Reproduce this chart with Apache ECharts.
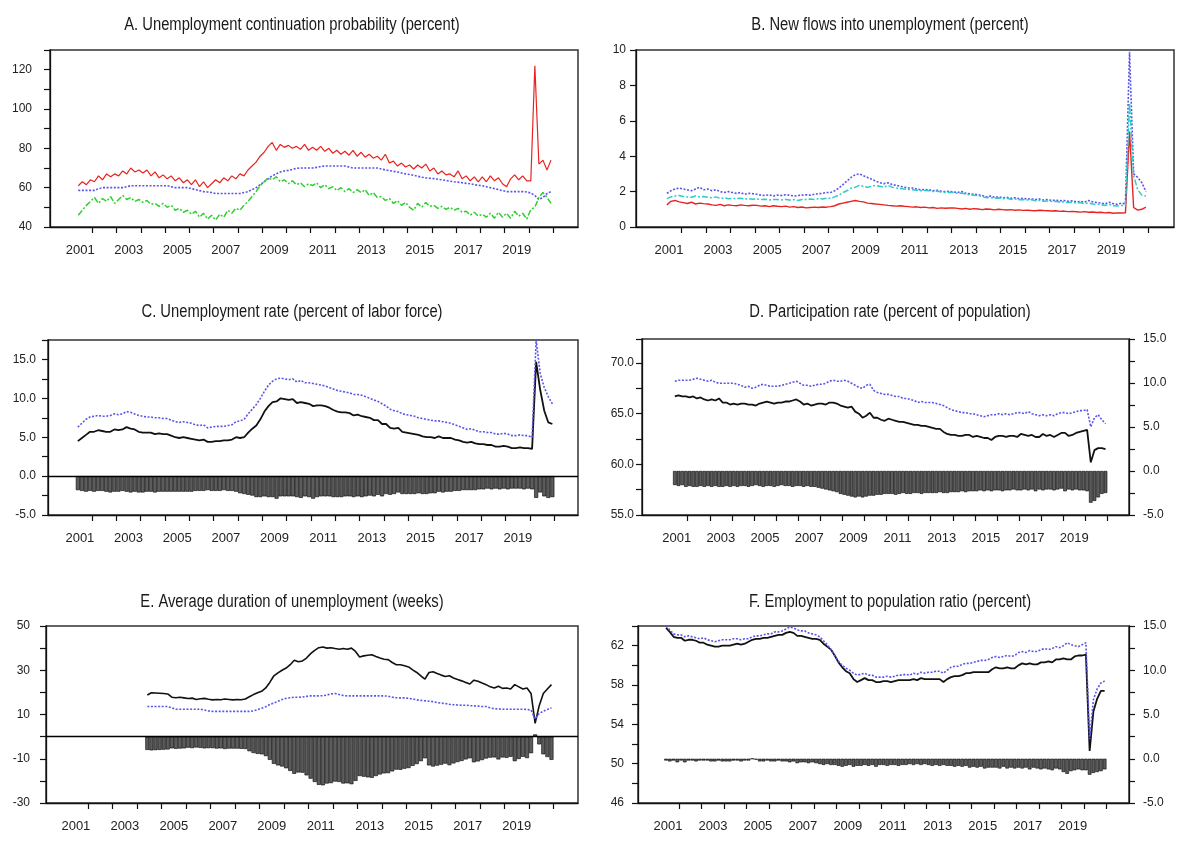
<!DOCTYPE html>
<html><head><meta charset="utf-8">
<script src="https://cdn.jsdelivr.net/npm/echarts@6/dist/echarts.min.js"></script>
<style>html,body{margin:0;padding:0;background:#fff}#c{width:1177px;height:841px}</style>
</head><body><div id="c"></div>
<script>
// ---- observation calendar (every second month) ----
const stepMonths = 2;
const firstObs = { year: 2001, month: 6 };   // June 2001
const firstObsE = { year: 2004, month: 6 };  // June 2004 (panel E)
const yearTicks = [2002,2003,2004,2005,2006,2007,2008,2009,2010,2011,2012,2013,2014,2015,2016,2017,2018,2019,2020,2021];
const yearLabels = [2001,2003,2005,2007,2009,2011,2013,2015,2017,2019];
const panelTitles = [
  'A. Unemployment continuation probability (percent)',
  'B. New flows into unemployment (percent)',
  'C. Unemployment rate (percent of labor force)',
  'D. Participation rate (percent of population)',
  'E. Average duration of unemployment (weeks)',
  'F. Employment to population ratio (percent)'
];

// ---- A. Unemployment continuation probability (percent) ----
const contProbRed = [61,63,61.5,64,
 63,66,64,67,65.5,67, 66,68.5,67,70,68,69, 67.5,69,66,68,65,66.5, 64.5,66,63.5,65,62.5,64,
 61.5,64,60.5,63,60,62, 64,62.5,65,63.5,66,64.5, 67,66,69,71,73,76, 78,81,83,79,82,80.5,
 81.5,80,81,79.5,82,79, 80.5,79,81,78.5,80,77.5, 79,77,78.5,76.5,79,76, 78,75.5,77,75,76,74,
 77,72.5,73.5,71,72.5,70.5, 71.5,69.5,71.5,70,72,68.5, 70,67,68.5,66.5,67,65.5, 68.5,64.5,66,63.5,65.5,63,
 65.5,63,66,63.5,65,62, 60.5,64.5,66.5,64,66,63.5, 63.5,122,72,74,69,74];
const contProbBlue = [58.6,58.6,58.6,58.6,
 58.6,59.5,60,60,60,60, 60,60,60.5,61,61,61, 61,61,61,61,61,61, 61,60.5,60,60,60,60,
 59.5,59,58.5,58,57.8,57.5, 57,57,57,57,57,57, 57,57.5,58,59,60,61.5, 63,64.5,66,67,68,68.5,
 68.8,69.3,69.8,70,70,70, 70,70.3,70.8,71,71,71, 71,71,71,70.5,70,70, 70,70,70,70,70,69.5,
 69,68.7,68.3,68,67.5,67, 66.7,66.3,65.8,65.3,65,64.8, 64.6,64.3,64,63.7,63.3,63, 62.8,62.5,62.2,62,61.5,61.2,
 61,60.5,60,59.5,59,58.5, 58,58,58,58,58,57.8, 57.3,56,54,55,57,58];
const contProbGreen = [46,48.5,51,53,
 55,52,54.5,53,55.5,52, 54,56,54,55,53,54, 52.5,53.5,51.5,52,50.5,52, 50,51,48.5,49.5,47.5,48.5,
 46.5,48,45,47,44,46, 43.5,46.5,45,48.5,47,49.5, 48.5,51,53,55.5,58,61, 63,65,64,65.5,63,64,
 62,63.5,61.5,62.5,60.5,62, 61,62.5,60,61.5,59.5,60.5, 58.5,60,58,59.5,57.5,59, 57.5,59,56,57.5,55,55.5,
 53.5,54.5,52,53.5,51,52.5, 50,48.5,52,50,52.5,50.5, 51,49.5,50.5,49,50,48.5, 49.5,47.5,48,46,47.5,45.5,
 46.5,45,47,44.5,47.5,45, 47,44.5,48,45.5,47,44, 49,50,55,57.5,55,52];

// ---- B. New flows into unemployment (percent) ----
const flowsRed = [1.25,1.45,1.5,1.42,
 1.38,1.33,1.4,1.3,1.35,1.32, 1.3,1.25,1.22,1.28,1.2,1.25, 1.22,1.2,1.25,1.22,1.2,1.23, 1.22,1.18,1.2,1.15,1.2,1.17,
 1.15,1.18,1.12,1.15,1.1,1.13, 1.08,1.1,1.12,1.1,1.13,1.12, 1.15,1.2,1.3,1.35,1.4,1.45, 1.5,1.45,1.42,1.35,1.33,1.3,
 1.28,1.25,1.22,1.2,1.18,1.2, 1.17,1.15,1.12,1.14,1.1,1.12, 1.08,1.1,1.05,1.08,1.06,1.07, 1.08,1.05,1.02,1.05,1.0,1.04,
 1.02,0.98,1.02,1.0,0.97,1.0, 0.98,0.96,0.98,0.95,0.97,0.94, 0.95,0.93,0.92,0.95,0.93,0.92, 0.9,0.92,0.88,0.9,0.87,0.88,
 0.86,0.84,0.87,0.83,0.85,0.82, 0.83,0.8,0.82,0.78,0.8,0.79, 0.8,5.4,1.1,0.95,1.0,1.12];
const flowsBlue = [1.9,2.05,2.15,2.2,
 2.15,2.1,2.05,2.15,2.25,2.1, 2.15,2.05,2.1,2.0,1.95,2.0, 1.95,1.9,1.95,1.85,1.9,1.88, 1.85,1.8,1.78,1.82,1.75,1.8,
 1.78,1.82,1.8,1.75,1.78,1.8, 1.82,1.8,1.85,1.88,1.9,1.95, 1.95,2.05,2.2,2.4,2.6,2.8, 2.95,3.0,2.9,2.8,2.7,2.6,
 2.5,2.45,2.5,2.4,2.35,2.3, 2.25,2.2,2.2,2.15,2.1,2.12, 2.1,2.05,2.08,2.02,2.0,2.02, 1.98,1.95,2.0,1.9,1.88,1.85,
 1.82,1.78,1.7,1.75,1.68,1.7, 1.65,1.68,1.62,1.65,1.6,1.62, 1.58,1.6,1.55,1.58,1.52,1.55, 1.5,1.52,1.48,1.5,1.45,1.48,
 1.42,1.45,1.4,1.5,1.42,1.38, 1.35,1.3,1.4,1.32,1.28,1.35, 1.3,9.9,3.0,2.8,2.5,2.0];
const flowsCyan = [1.6,1.7,1.75,1.78,
 1.72,1.7,1.68,1.75,1.7,1.72, 1.68,1.65,1.7,1.62,1.65,1.6, 1.62,1.6,1.63,1.58,1.6,1.57, 1.58,1.55,1.57,1.53,1.56,1.55,
 1.53,1.56,1.52,1.55,1.5,1.55, 1.55,1.58,1.55,1.6,1.58,1.62, 1.62,1.7,1.8,1.95,2.05,2.2, 2.25,2.35,2.3,2.25,2.3,2.35,
 2.3,2.25,2.35,2.25,2.2,2.18, 2.15,2.12,2.1,2.08,2.05,2.06, 2.05,2.0,2.02,1.98,1.95,1.96, 1.95,1.9,1.92,1.85,1.82,1.8,
 1.78,1.72,1.65,1.68,1.62,1.64, 1.6,1.62,1.56,1.58,1.54,1.55, 1.52,1.54,1.48,1.5,1.45,1.47, 1.44,1.45,1.4,1.42,1.38,1.4,
 1.35,1.38,1.32,1.36,1.3,1.28, 1.27,1.22,1.28,1.2,1.18,1.22, 1.2,7.0,2.9,2.1,1.8,1.75];

// ---- C. Unemployment rate (percent of labor force) ----
const urateBlack = [4.5,4.9,5.3,5.7,
 5.7,5.9,5.8,5.7,5.7,6.0, 5.9,6.0,6.3,6.1,6.0,5.7, 5.6,5.6,5.6,5.4,5.5,5.4, 5.4,5.2,5.0,4.9,5.0,4.9,
 4.8,4.7,4.6,4.7,4.4,4.4, 4.5,4.5,4.6,4.6,4.7,5.0, 4.9,5.0,5.6,6.1,6.5,7.3, 8.3,9.0,9.5,9.6,10.0,9.9,
 9.8,9.9,9.4,9.5,9.4,9.3, 9.0,9.1,9.1,9.0,8.8,8.5, 8.3,8.2,8.2,8.1,7.8,7.9, 7.7,7.6,7.5,7.2,7.2,6.7,
 6.7,6.2,6.1,6.2,5.7,5.6, 5.5,5.4,5.3,5.1,5.0,5.0, 4.9,5.1,4.9,4.9,4.9,4.7, 4.6,4.4,4.3,4.4,4.2,4.1,
 4.1,4.0,4.0,3.8,3.8,3.9, 3.8,3.6,3.6,3.7,3.6,3.6, 3.5,14.7,11.1,8.4,6.9,6.7];
const urateBlue = [6.3,6.8,7.3,7.6,
 7.7,7.8,7.7,7.7,7.8,8.0, 7.9,8.0,8.3,8.2,8.0,7.8, 7.7,7.6,7.6,7.5,7.5,7.4, 7.4,7.2,7.0,6.9,7.0,6.9,
 6.8,6.6,6.5,6.6,6.2,6.3, 6.4,6.4,6.4,6.5,6.6,7.0, 7.1,7.3,8.0,8.6,9.2,10.0, 10.9,11.7,12.2,12.5,12.6,12.5,
 12.4,12.5,12.1,12.3,12.0,12.0, 11.9,11.8,11.7,11.6,11.4,11.2, 11.0,10.9,10.8,10.7,10.5,10.5, 10.4,10.2,10.0,9.8,9.6,9.3,
 9.0,8.6,8.4,8.3,8.0,7.9, 7.8,7.7,7.5,7.4,7.3,7.2, 7.1,7.1,7.0,6.9,6.8,6.6, 6.4,6.2,6.0,6.1,5.9,5.7,
 5.7,5.6,5.6,5.4,5.4,5.5, 5.4,5.2,5.2,5.3,5.2,5.2, 5.0,17.5,13.2,11.4,10.2,9.3];
const urateBars = [-1.8,-1.9,-2.0,-1.9,
 -2.0,-1.9,-1.9,-2.0,-2.1,-2.0, -2.0,-1.9,-2.0,-2.1,-2.0,-2.1, -2.1,-2.0,-2.0,-2.1,-2.0,-2.0, -2.0,-2.0,-2.0,-2.0,-2.0,-2.0,
 -2.0,-1.9,-1.9,-1.9,-1.8,-1.9, -1.9,-1.9,-1.8,-1.9,-1.9,-2.0, -2.2,-2.3,-2.4,-2.5,-2.7,-2.7, -2.6,-2.7,-2.7,-2.9,-2.6,-2.6,
 -2.6,-2.6,-2.7,-2.8,-2.6,-2.7, -2.9,-2.7,-2.6,-2.6,-2.6,-2.7, -2.7,-2.7,-2.6,-2.6,-2.7,-2.6, -2.7,-2.6,-2.5,-2.6,-2.4,-2.6,
 -2.3,-2.4,-2.3,-2.1,-2.3,-2.3, -2.3,-2.3,-2.2,-2.3,-2.3,-2.2, -2.2,-2.0,-2.1,-2.0,-2.0,-1.9, -1.9,-1.8,-1.8,-1.8,-1.8,-1.7,
 -1.7,-1.6,-1.7,-1.6,-1.7,-1.6, -1.7,-1.6,-1.6,-1.6,-1.7,-1.6, -1.7,-2.8,-2.1,-2.6,-2.8,-2.7];

// ---- D. Participation rate (percent of population) ----
const partBlack = [66.7,66.8,66.7,66.7,
 66.6,66.7,66.5,66.6,66.4,66.3, 66.4,66.3,66.5,66.1,66.1,65.9, 66.0,65.9,66.0,66.0,65.9,65.9, 65.8,66.0,66.1,66.2,66.1,66.0,
 66.1,66.1,66.2,66.2,66.3,66.4, 66.2,65.9,66.0,65.8,65.9,66.0, 66.0,65.9,66.1,66.1,66.0,65.8, 65.7,65.6,65.7,65.2,65.0,64.6,
 64.8,65.1,64.6,64.6,64.4,64.3, 64.5,64.4,64.3,64.2,64.2,64.1, 64.0,63.9,63.9,63.8,63.8,63.7, 63.6,63.5,63.5,63.2,63.0,62.9,
 62.9,62.8,62.8,62.9,62.9,62.7, 62.8,62.7,62.6,62.6,62.4,62.7, 62.8,62.8,62.7,62.8,62.8,62.7, 63.0,62.9,62.8,62.9,62.7,62.7,
 63.0,62.8,62.9,62.7,62.9,63.1, 63.1,62.8,62.9,63.1,63.2,63.3, 63.4,60.2,61.4,61.6,61.6,61.5];
const partBlue = [68.2,68.3,68.3,68.3,
 68.3,68.4,68.5,68.4,68.3,68.2, 68.3,68.1,68.0,68.0,68.0,68.0, 68.0,67.9,67.8,67.6,67.7,67.5, 67.6,67.8,67.9,67.8,67.7,67.7,
 67.7,67.8,67.9,68.0,68.1,68.2, 68.0,67.8,67.8,67.7,67.8,67.9, 67.9,68.0,68.2,68.3,68.2,68.2, 68.3,68.2,68.0,67.8,67.6,67.5,
 67.8,67.9,67.3,67.1,67.0,66.9, 66.9,66.8,66.7,66.7,66.5,66.5, 66.4,66.3,66.1,66.2,66.1,66.1, 66.1,66.0,65.9,65.8,65.6,65.4,
 65.3,65.2,65.1,65.1,65.0,65.0, 64.9,64.8,64.7,64.8,64.9,64.9, 65.0,64.9,65.0,64.9,65.0,65.1, 65.1,65.0,65.2,65.0,64.9,64.8,
 64.9,64.8,64.9,64.8,65.0,65.1, 65.1,65.0,65.1,65.2,65.3,65.3, 65.4,63.7,64.6,64.9,64.4,64.0];
const partBars = [-1.6,-1.7,-1.6,-1.8,
 -1.7,-1.8,-1.8,-1.7,-1.8,-1.7, -1.8,-1.7,-1.8,-1.8,-1.7,-1.8, -1.7,-1.8,-1.7,-1.7,-1.8,-1.7, -1.6,-1.7,-1.8,-1.7,-1.7,-1.8,
 -1.7,-1.6,-1.7,-1.7,-1.8,-1.7, -1.7,-1.8,-1.7,-1.8,-1.8,-1.9, -2.0,-2.1,-2.2,-2.3,-2.4,-2.6, -2.7,-2.8,-2.9,-3.0,-2.9,-3.0,
 -2.9,-2.8,-2.8,-2.7,-2.7,-2.6, -2.6,-2.6,-2.7,-2.6,-2.5,-2.6, -2.6,-2.5,-2.5,-2.6,-2.5,-2.5, -2.5,-2.5,-2.4,-2.5,-2.5,-2.4,
 -2.4,-2.4,-2.3,-2.4,-2.3,-2.3, -2.3,-2.2,-2.3,-2.2,-2.3,-2.2, -2.2,-2.3,-2.2,-2.2,-2.1,-2.2, -2.2,-2.1,-2.2,-2.1,-2.3,-2.1,
 -2.2,-2.1,-2.1,-2.2,-2.1,-2.0, -2.3,-2.1,-2.2,-2.1,-2.2,-2.2, -2.3,-3.6,-3.4,-3.0,-2.6,-2.5];

// ---- E. Average duration of unemployment (weeks), from June 2004 ----
const durBlack = [18.8,19.8,19.7,19.6,
 19.5,19.3,17.8,17.6,17.8,17.5, 17.2,17.4,16.8,17.1,17.3,16.9, 16.6,16.8,16.7,17.0,16.8,16.6, 16.8,16.7,17.0,18.0,19.0,19.8,
 20.5,22.0,24.5,27.5,28.8,30.0, 31.0,32.5,34.5,33.8,34.2,35.5, 37.5,39.0,40.2,40.5,40.0,40.2, 39.8,39.5,39.8,39.5,40.0,38.5,
 36.0,36.5,36.8,37.0,36.2,35.5, 35.0,34.8,33.5,32.5,32.5,32.0, 31.5,30.2,29.0,27.5,26.0,29.0, 29.3,28.5,27.8,27.2,27.5,26.5,
 25.8,25.2,24.5,23.8,25.5,25.0, 24.2,23.5,22.5,22.0,22.8,21.8, 22.0,21.5,23.5,22.5,21.5,22.0, 19.5,6.0,14.0,19.5,21.5,23.5];
const durBlue = [13.6,13.6,13.6,13.6,
 13.6,13.6,13.0,12.4,12.4,12.4, 12.4,12.4,12.4,12.4,12.0,11.6, 11.4,11.4,11.4,11.4,11.4,11.4, 11.4,11.4,11.4,11.4,11.6,12.2,
 12.8,13.5,14.5,15.2,16.0,16.8, 17.3,17.6,17.8,17.8,17.9,18.2, 18.4,18.4,18.4,18.5,18.8,19.3, 19.5,19.0,18.6,18.4,18.4,18.4,
 18.4,18.4,18.4,18.4,18.4,18.4, 18.4,18.3,17.8,17.6,17.5,17.5, 17.3,17.0,16.6,16.4,16.2,16.0, 15.8,15.4,15.1,15.0,14.6,14.4,
 14.3,14.2,14.2,14.0,13.9,13.8, 13.6,13.6,13.0,12.6,12.5,12.4, 12.4,12.4,12.4,12.4,12.4,12.3, 12.0,8.0,10.5,11.5,12.3,13.0];
const durBars = [-6.0,-6.2,-6.1,-6.0,
 -5.9,-5.8,-5.3,-5.5,-5.4,-5.3, -5.0,-5.2,-4.9,-5.1,-5.3,-5.2, -5.2,-5.4,-5.3,-5.6,-5.4,-5.4, -5.4,-5.5,-5.6,-6.6,-7.4,-7.8,
 -8.0,-8.8,-10.5,-12.3,-13.0,-13.5, -14.3,-15.5,-16.8,-16.2,-16.3,-17.5, -19.0,-20.5,-21.8,-22.0,-21.2,-21.0, -20.3,-20.5,-21.2,-21.1,-21.5,-20.0,
 -17.8,-18.1,-18.4,-18.6,-17.8,-17.1, -16.6,-16.5,-15.7,-14.9,-15.0,-14.5, -14.2,-13.2,-12.4,-11.1,-9.8,-13.0, -13.5,-13.1,-12.7,-12.2,-12.9,-12.1,
 -11.5,-11.0,-10.3,-9.8,-11.6,-11.2, -10.6,-9.9,-9.5,-9.4,-10.3,-9.4, -9.6,-9.1,-11.1,-10.1,-9.1,-9.7, -7.5,1.0,-3.5,-8.0,-9.2,-10.5];

// ---- F. Employment to population ratio (percent) ----
const eprBlack = [63.8,63.4,62.9,62.8,
 62.8,62.5,62.6,62.6,62.5,62.3, 62.3,62.1,62.0,61.9,61.9,62.0, 62.0,62.0,62.1,62.2,62.1,62.2, 62.4,62.6,62.7,62.7,62.8,62.8,
 62.9,63.0,63.1,63.1,63.3,63.4, 63.3,63.0,63.0,62.9,62.8,62.7, 62.7,62.6,62.2,61.9,61.6,61.0, 60.3,59.8,59.4,59.2,58.6,58.3,
 58.5,58.7,58.5,58.5,58.3,58.3, 58.4,58.4,58.3,58.4,58.5,58.5, 58.5,58.5,58.6,58.5,58.7,58.6, 58.6,58.6,58.6,58.6,58.3,58.6,
 58.8,58.9,58.9,59.0,59.2,59.2, 59.3,59.3,59.3,59.3,59.3,59.6, 59.8,59.7,59.7,59.8,59.7,59.7, 60.0,60.2,60.1,60.2,60.1,60.1,
 60.3,60.3,60.4,60.3,60.6,60.6, 60.7,60.6,60.6,60.9,61.0,61.0, 61.1,51.3,55.3,56.6,57.4,57.4];
const eprBlue = [64.0,63.6,63.2,63.1,
 63.1,62.9,63.0,62.9,62.8,62.7, 62.8,62.6,62.5,62.4,62.5,62.6, 62.6,62.6,62.7,62.7,62.6,62.7, 62.7,62.9,63.0,63.0,63.1,63.2,
 63.2,63.4,63.4,63.5,63.7,63.9, 63.8,63.6,63.5,63.5,63.3,63.2, 63.1,62.9,62.5,62.1,61.6,61.0, 60.4,60.0,59.7,59.5,59.2,59.0,
 59.1,59.2,59.0,59.0,58.8,58.8, 58.8,58.9,58.8,58.9,59.0,59.0, 59.1,59.0,59.2,59.1,59.3,59.2, 59.3,59.3,59.4,59.4,59.2,59.5,
 59.8,59.9,59.9,60.1,60.2,60.2, 60.3,60.4,60.5,60.5,60.6,60.8, 60.9,60.8,60.9,61.0,60.9,61.0, 61.3,61.4,61.3,61.5,61.4,61.4,
 61.6,61.7,61.6,61.7,61.9,61.8, 62.0,62.3,62.1,62.0,61.9,62.1, 62.3,52.5,56.5,57.6,58.2,58.4];
const eprBars = [-0.2,-0.3,-0.2,-0.4,
 -0.2,-0.4,-0.2,-0.2,-0.3,-0.2, -0.2,-0.2,-0.3,-0.3,-0.2,-0.3, -0.3,-0.3,-0.2,-0.2,-0.3,-0.2, -0.2,0,-0.1,-0.3,-0.3,-0.2,
 -0.3,-0.3,-0.2,-0.3,-0.3,-0.4, -0.3,-0.5,-0.4,-0.4,-0.5,-0.4, -0.5,-0.6,-0.7,-0.6,-0.7,-0.7, -0.8,-0.9,-0.8,-0.7,-0.9,-0.8,
 -0.8,-0.7,-0.8,-0.7,-0.9,-0.7, -0.7,-0.8,-0.7,-0.7,-0.8,-0.7, -0.7,-0.6,-0.7,-0.6,-0.7,-0.6, -0.7,-0.8,-0.7,-0.8,-0.7,-0.8,
 -0.8,-0.9,-0.8,-0.9,-0.8,-1.0, -0.9,-1.0,-0.9,-1.1,-1.0,-1.0, -1.0,-1.1,-0.9,-1.1,-1.0,-1.1, -1.0,-1.1,-1.0,-1.2,-1.0,-1.1,
 -1.2,-1.1,-1.2,-1.3,-1.1,-1.2, -1.5,-1.7,-1.4,-1.3,-1.2,-1.3, -1.3,-1.8,-1.6,-1.5,-1.4,-1.2];

// ---- build ----
function withDates(values, start) {
  return values.map((v, i) => [start.year + (start.month - 1 + i * stepMonths) / 12, v]);
}
const FONT = "'Liberation Sans', Arial, sans-serif";
const RED = '#e8231f', BLUE = '#5a55e8', GREEN = '#2fcf2f', CYAN = '#2ccccc', BLACK = '#111';

const grids = [
  {left: 50, top: 50, width: 528, height: 177},
  {left: 636, top: 50, width: 538, height: 177},
  {left: 48, top: 340, width: 530, height: 175},
  {left: 642, top: 339, width: 487, height: 176},
  {left: 46, top: 626, width: 532, height: 177},
  {left: 638, top: 626, width: 491, height: 177}
].map(g => Object.assign({show: true, borderColor: '#333', borderWidth: 1.5, backgroundColor: 'transparent'}, g));

const xRanges = [[2000.25, 2022.03], [2000.16, 2022.06], [2000.19, 2021.97], [1999.93, 2021.98], [2000.28, 2022.0], [2000.17, 2022.0]];
const xAxes = xRanges.map((r, i) => ({
  type: 'value', gridIndex: i, min: r[0], max: r[1], position: 'bottom',
  axisLine: {show: true, onZero: false, lineStyle: {color: '#111', width: 1.3}},
  axisTick: {show: true, length: 6, customValues: yearTicks, lineStyle: {color: '#111', width: 1.2}},
  axisLabel: {customValues: yearLabels.map(y => y + 0.5), formatter: v => String(Math.floor(v)),
    fontFamily: FONT, fontSize: 13, color: '#222', margin: 17},
  splitLine: {show: false}
}));

function yAx(gi, min, max, interval, fmt, margin, pos) {
  return {
    type: 'value', gridIndex: gi, min: min, max: max, interval: interval, position: pos || 'left',
    axisLine: {show: true, onZero: false, lineStyle: {color: '#111', width: 1.3}},
    axisTick: {show: true, length: 6, lineStyle: {color: '#111', width: 1.2}},
    axisLabel: {formatter: fmt, fontFamily: FONT, fontSize: 12, color: '#222', margin: margin},
    splitLine: {show: false}
  };
}
const isMult = (v, m) => Math.abs(v / m - Math.round(v / m)) < 1e-6;
const fmtHalf = v => isMult(v, 5) ? v.toFixed(1) : '';
const yAxes = [
  yAx(0, 40, 130, 10, v => (isMult(v - 40, 20) && v < 125) ? String(v) : '', 18),
  yAx(1, 0, 10, 2, v => String(v), 10),
  yAx(2, -5, 17.5, 2.5, fmtHalf, 12),
  yAx(3, 55, 72.37, 2.5, v => (isMult(v, 5) && v < 71) ? v.toFixed(1) : '', 8),
  yAx(3, -5, 15, 2.5, fmtHalf, 14, 'right'),
  yAx(4, -30, 50, 10, v => isMult(v + 30, 20) ? String(v) : '', 16),
  yAx(5, 46, 64, 2, v => (isMult(v - 46, 4) && v < 63) ? String(v) : '', 14),
  yAx(5, -5, 15, 2.5, fmtHalf, 14, 'right')
];

function line(xi, yi, data, color, type, width) {
  return {type: 'line', xAxisIndex: xi, yAxisIndex: yi, data: data, showSymbol: false, symbol: 'none',
    lineStyle: {color: color, width: width || 1.3, type: type || 'solid'}, z: 3, silent: true};
}
const zeroLine = {silent: true, symbol: ['none', 'none'], label: {show: false},
  lineStyle: {color: '#000', width: 1.4, type: 'solid'}, data: [{yAxis: 0}], animation: false};
function bars(xi, yi, data, w, mark) {
  const s = {type: 'bar', xAxisIndex: xi, yAxisIndex: yi, data: data, barWidth: w,
    itemStyle: {color: '#5c5c5c', borderColor: '#000', borderWidth: 0.6}, z: 2, silent: true};
  if (mark) s.markLine = zeroLine;
  return s;
}
const dotted = [2, 1.6], dashDot = [6, 2, 2, 2];
const series = [
  line(0, 0, withDates(contProbRed, firstObs), RED, 'solid', 1.2),
  line(0, 0, withDates(contProbBlue, firstObs), BLUE, dotted, 1.6),
  line(0, 0, withDates(contProbGreen, firstObs), GREEN, dashDot, 1.5),
  line(1, 1, withDates(flowsRed, firstObs), RED, 'solid', 1.4),
  line(1, 1, withDates(flowsBlue, firstObs), BLUE, dotted, 1.6),
  line(1, 1, withDates(flowsCyan, firstObs), CYAN, dashDot, 1.5),
  bars(2, 2, withDates(urateBars, firstObs), 4, true),
  line(2, 2, withDates(urateBlack, firstObs), BLACK, 'solid', 1.8),
  line(2, 2, withDates(urateBlue, firstObs), BLUE, dotted, 1.6),
  bars(3, 4, withDates(partBars, firstObs), 3.6, false),
  line(3, 3, withDates(partBlack, firstObs), BLACK, 'solid', 1.8),
  line(3, 3, withDates(partBlue, firstObs), BLUE, dotted, 1.6),
  bars(4, 5, withDates(durBars, firstObsE), 4, true),
  line(4, 5, withDates(durBlack, firstObsE), BLACK, 'solid', 1.6),
  line(4, 5, withDates(durBlue, firstObsE), BLUE, dotted, 1.6),
  bars(5, 7, withDates(eprBars, firstObs), 3.6, false),
  line(5, 6, withDates(eprBlack, firstObs), BLACK, 'solid', 1.8),
  line(5, 6, withDates(eprBlue, firstObs), BLUE, dotted, 1.6)
];

// panel titles: Arial-like text, horizontally condensed as in the original
const titleAnchors = [[292, 25], [890, 25], [292, 312], [890, 312], [292, 602], [890, 602]];
const graphic = panelTitles.map((t, i) => ({
  type: 'text', x: titleAnchors[i][0], y: titleAnchors[i][1], scaleX: 0.82, silent: true,
  style: {text: t, font: "normal 18px 'Liberation Sans', Arial, sans-serif", fill: '#1a1a1a',
    textAlign: 'center', textVerticalAlign: 'middle', align: 'center', verticalAlign: 'middle'}
}));

const chart = echarts.init(document.getElementById('c'), null, {renderer: 'canvas'});
chart.setOption({
  animation: false, backgroundColor: '#fff',
  grid: grids, xAxis: xAxes, yAxis: yAxes, series: series, graphic: graphic
});
</script></body></html>
